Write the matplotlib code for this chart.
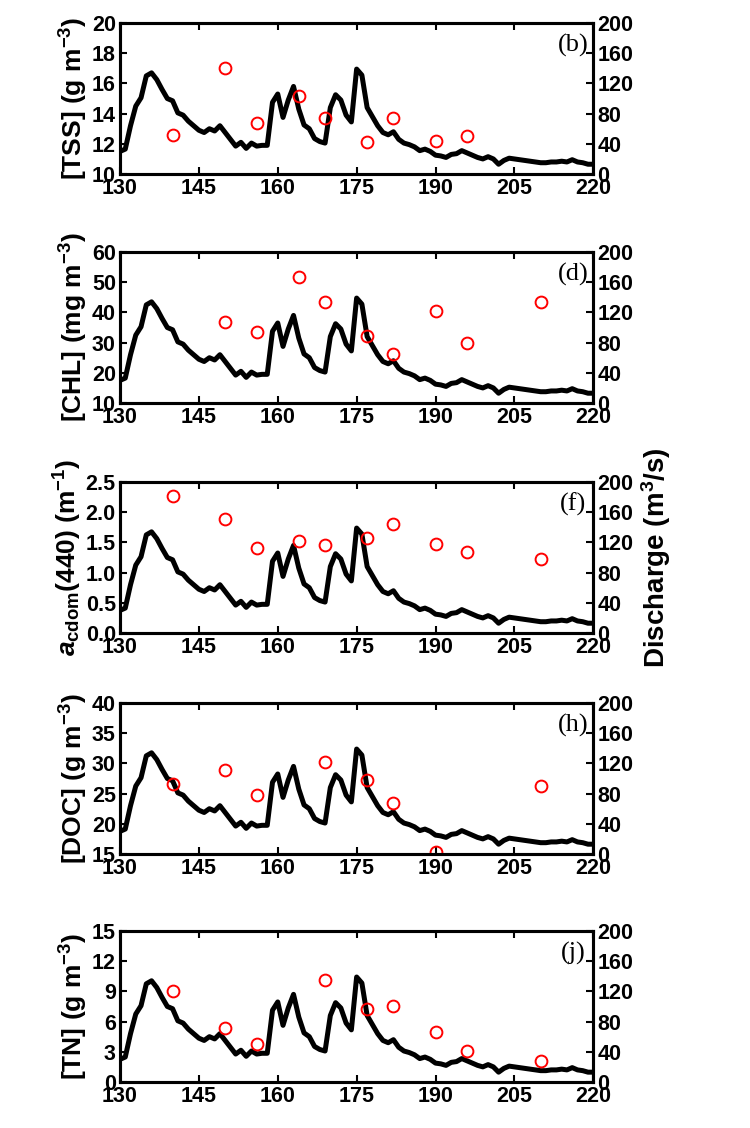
import matplotlib
matplotlib.use("Agg")
import matplotlib.pyplot as plt

plt.rcParams['font.family'] = ['Liberation Sans', 'DejaVu Sans']
plt.rcParams['font.weight'] = 'bold'
plt.rcParams['axes.labelweight'] = 'bold'
plt.rcParams['mathtext.fontset'] = 'custom'
plt.rcParams['mathtext.rm'] = 'Liberation Sans:bold'
plt.rcParams['mathtext.it'] = 'Liberation Sans:bold:italic'
plt.rcParams['mathtext.bf'] = 'Liberation Sans:bold'

# daily discharge (m3/s), day of year 130..220
days = list(range(130, 221))
discharge = [30, 33, 64, 90, 101, 130, 134, 125, 112, 100,
             97, 81, 78, 70, 64, 58, 55, 60, 57, 64,
             55, 46, 37, 42, 34, 41, 37, 38, 38, 95,
             106, 75, 98, 116, 86, 65, 60, 47, 43, 41,
             88, 105, 98, 78, 69, 139, 131, 88, 76, 64,
             55, 52, 56, 46, 41, 39, 36, 31, 33, 30,
             25, 24, 22, 26, 27, 31, 28, 25, 22, 20,
             23, 20, 13, 18, 21, 20, 19, 18, 17, 16,
             15, 15, 16, 16, 17, 16, 19, 16, 15, 13, 13]

# sampled water quality
tss_days = [140, 150, 156, 164, 169, 177, 182, 190, 196]
tss = [12.6, 17.0, 13.4, 15.2, 13.7, 12.1, 13.7, 12.2, 12.5]

chl_days = [150, 156, 164, 169, 177, 182, 190, 196, 210]
chl = [36.9, 33.6, 51.8, 43.6, 32.2, 26.2, 40.6, 29.8, 43.6]

cdom_days = [140, 150, 156, 164, 169, 177, 182, 190, 196, 210]
cdom = [2.26, 1.88, 1.40, 1.53, 1.46, 1.58, 1.81, 1.47, 1.34, 1.23]

doc_days = [140, 150, 156, 169, 177, 182, 190, 210]
doc = [26.6, 28.9, 24.8, 30.3, 27.2, 23.4, 15.4, 26.3]

tn_days = [140, 150, 156, 169, 177, 182, 190, 196, 210]
tn = [9.0, 5.4, 3.8, 10.1, 7.2, 7.5, 5.0, 3.1, 2.1]

panels = [
    (tss_days, tss, (10, 20), [10, 12, 14, 16, 18, 20], ['10', '12', '14', '16', '18', '20'],
     '[TSS] (g m$^{-3}$)', '(b)'),
    (chl_days, chl, (10, 60), [10, 20, 30, 40, 50, 60], ['10', '20', '30', '40', '50', '60'],
     '[CHL] (mg m$^{-3}$)', '(d)'),
    (cdom_days, cdom, (0, 2.5), [0, 0.5, 1.0, 1.5, 2.0, 2.5], ['0.0', '0.5', '1.0', '1.5', '2.0', '2.5'],
     '$a_{\\mathrm{cdom}}$(440) (m$^{-1}$)', '(f)'),
    (doc_days, doc, (15, 40), [15, 20, 25, 30, 35, 40], ['15', '20', '25', '30', '35', '40'],
     '[DOC] (g m$^{-3}$)', '(h)'),
    (tn_days, tn, (0, 15), [0, 3, 6, 9, 12, 15], ['0', '3', '6', '9', '12', '15'],
     '[TN] (g m$^{-3}$)', '(j)'),
]

fig = plt.figure(figsize=(7.5, 11.28), dpi=100)
bottoms = [0.8457, 0.6427, 0.4388, 0.2429, 0.0408]
xticks = [130, 145, 160, 175, 190, 205, 220]

for i, (pd_, pv, ylim, yt, ytl, ylab, tag) in enumerate(panels):
    ax = fig.add_axes([0.16, bottoms[i], 0.631, 0.1339])
    ax2 = ax.twinx()
    ax2.plot(days, discharge, color='black', lw=3.6, solid_joinstyle='round')
    ax2.set_ylim(0, 200)
    ax2.set_yticks([0, 40, 80, 120, 160, 200])
    ax.plot(pd_, pv, 'o', mfc='none', mec='red', mew=1.4, ms=8.5)
    ax.set_zorder(ax2.get_zorder() + 1)
    ax.patch.set_visible(False)
    ax.set_xlim(130, 220)
    ax.set_xticks(xticks)
    ax.set_ylim(*ylim)
    ax.set_yticks(yt)
    ax.set_yticklabels(ytl)
    ax.set_ylabel(ylab, fontsize=19, labelpad=1)
    ax.text(0.958, 0.85, tag, transform=ax.transAxes, ha='center', va='center',
            fontsize=19, family='Liberation Serif', fontweight='normal')
    for a in (ax, ax2):
        for s in a.spines.values():
            s.set_linewidth(2.2)
        a.tick_params(direction='in', length=5, width=1.5, labelsize=15.5, pad=3)
    ax.tick_params(top=True, right=False)
    if i == 2:
        ax2.set_ylabel('Discharge (m$^3$/s)', fontsize=20, labelpad=4)

fig.savefig('out.png', dpi=100)
